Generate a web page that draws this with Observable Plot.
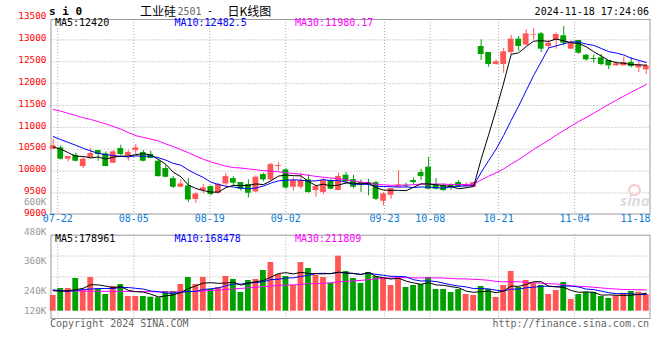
<!DOCTYPE html>
<html><head><meta charset="utf-8">
<script src="https://cdn.jsdelivr.net/npm/d3@7"></script>
<script src="https://cdn.jsdelivr.net/npm/@observablehq/plot@0.6"></script>
<style>
body{margin:0;background:#fff;}
#c{position:relative;width:660px;height:360px;overflow:hidden;background:#fff;}
#c svg{position:absolute;left:0;top:0;}
.t{position:absolute;white-space:pre;}
</style></head><body><div id="c"></div>
<script>
// ---- data (si0 industrial silicon, daily K, 2024-07-19 .. 2024-11-18) ----
const open  = [10499,10530,10271,10362,10103,10301,10469,10393,10179,10515,10347,10469,10423,10378,10225,10057,9828,9630,9660,9350,9554,9645,9493,9706,9828,9737,9691,9523,9920,9798,10103,10027,9630,9630,9798,9554,9508,9783,9554,9905,9805,9737,9737,9737,9310,9447,9630,9676,9783,9966,10088,9691,9660,9676,9737,9645,9630,12848,12711,12437,12437,12711,13016,12879,13108,13138,12848,12986,13093,12787,12986,12650,12574,12589,12528,12406,12406,12482,12360,12315];
const high  = [10728,10576,10332,10408,10332,10515,10469,10439,10469,10591,10469,10606,10469,10454,10255,10133,9874,9813,9828,9508,9691,9660,9722,9950,9874,9737,9798,9889,9950,10179,10194,10057,9844,9950,9920,9676,9828,9813,9950,9966,9905,9798,9813,9767,9508,9600,10011,9722,9844,10042,10316,9828,9706,9706,9783,9737,9737,13001,12711,12543,12803,13108,13077,13230,13260,13169,12986,13154,13306,12970,12986,12665,12650,12665,12528,12498,12604,12589,12498,12437];
const low   = [10499,10255,10210,10210,10057,10301,10225,10103,10179,10347,10225,10378,10210,10286,9859,9844,9600,9630,9279,9264,9477,9432,9477,9660,9660,9539,9386,9508,9752,9783,9996,9584,9539,9584,9493,9401,9462,9569,9554,9706,9600,9508,9432,9325,9203,9355,9630,9615,9676,9783,9569,9569,9539,9554,9615,9630,9630,12528,12376,12421,12238,12650,12742,12864,13001,12711,12803,12787,12864,12787,12665,12513,12467,12406,12315,12391,12406,12360,12253,12208];
const close = [10576,10271,10332,10225,10271,10400,10378,10103,10439,10378,10423,10530,10225,10286,9874,9859,9630,9706,9340,9475,9615,9462,9691,9874,9722,9584,9493,9859,9798,10149,10126,9615,9783,9783,9508,9645,9783,9584,9874,9752,9630,9676,9691,9355,9477,9600,9676,9653,9737,9874,9584,9584,9554,9630,9630,9691,9737,12665,12437,12498,12726,13016,12848,13138,13123,12787,12925,13123,12925,12925,12696,12543,12551,12437,12406,12452,12482,12391,12421,12406];
const volume = [157000,227000,227000,327000,207000,337000,217000,167000,247000,267000,147000,147000,147000,140000,134000,197000,197000,267000,337000,267000,337000,217000,237000,347000,317000,187000,307000,317000,407000,487000,367000,347000,257000,487000,427000,357000,337000,277000,550000,397000,327000,277000,387000,347000,337000,257000,327000,237000,257000,267000,337000,217000,217000,187000,217000,167000,157000,247000,217000,137000,257000,397000,237000,307000,277000,257000,167000,207000,287000,117000,167000,187000,187000,147000,127000,154000,177000,197000,190000,167000];
const ma5  = [10550,10505,10420,10340,10335,10300,10321,10275,10318,10340,10344,10375,10399,10368,10268,10155,9975,9871,9682,9602,9553,9520,9517,9623,9673,9667,9673,9706,9691,9777,9885,9909,9894,9891,9763,9667,9700,9661,9679,9728,9725,9703,9725,9621,9566,9560,9560,9552,9629,9708,9705,9686,9667,9645,9596,9618,9648,10271,10832,11406,12013,12668,12705,12845,12970,12982,12964,13019,12977,12937,12919,12842,12728,12630,12527,12478,12466,12434,12430,12420];
const ma10 = [10790,10720,10655,10590,10520,10460,10405,10375,10355,10337,10322,10348,10337,10343,10304,10250,10175,10135,10025,9935,9854,9747,9694,9653,9637,9610,9596,9612,9657,9725,9776,9791,9800,9791,9770,9776,9805,9777,9785,9745,9696,9702,9693,9650,9647,9642,9632,9638,9625,9637,9632,9623,9609,9637,9652,9661,9667,9969,10239,10501,10815,11158,11488,11839,12188,12498,12816,12862,12911,12954,12951,12903,12874,12804,12732,12698,12654,12581,12530,12482];
const ma30 = [11410,11370,11320,11270,11220,11180,11130,11080,11020,10960,10880,10810,10770,10730,10690,10620,10560,10490,10420,10340,10270,10210,10160,10110,10080,10070,10050,10030,10010,9999,9984,9962,9944,9929,9904,9878,9859,9841,9822,9802,9775,9747,9729,9698,9685,9676,9678,9676,9689,9702,9701,9705,9701,9693,9690,9693,9701,9795,9883,9961,10048,10161,10263,10375,10496,10600,10705,10823,10925,11031,11133,11228,11324,11426,11524,11619,11713,11804,11893,11980];
const vma5  = [205000,200000,205000,215000,229000,265000,263000,251000,235000,247000,209000,195000,191000,170000,143000,153000,163000,187000,226000,253000,281000,285000,279000,281000,291000,261000,279000,295000,307000,341000,377000,385000,373000,389000,377000,375000,373000,377000,390000,384000,378000,366000,388000,347000,335000,321000,331000,301000,283000,269000,285000,263000,259000,245000,235000,201000,189000,195000,201000,185000,203000,251000,249000,267000,295000,295000,249000,243000,239000,207000,189000,193000,189000,161000,163000,160000,158000,160000,169000,179000];
const vma10 = [213000,205000,198000,207000,217000,222000,227000,227000,227000,238000,237000,229000,221000,202000,195000,181000,179000,189000,198000,198000,217000,224000,233000,254000,272000,271000,282000,287000,294000,316000,319000,332000,334000,348000,359000,376000,379000,375000,389000,380000,376000,369000,382000,368000,359000,349000,348000,344000,315000,302000,303000,297000,280000,264000,252000,243000,226000,227000,223000,210000,202000,220000,222000,234000,240000,249000,250000,246000,253000,251000,242000,221000,216000,200000,185000,175000,176000,175000,165000,168000];
const vma30 = [207000,206000,205000,203000,201000,200000,199000,199000,198000,198000,197000,197000,196000,195000,194000,193000,193000,194000,196000,198000,202000,207000,212000,217000,222000,228000,234000,240000,246000,251000,258000,262000,263000,268000,275000,276000,280000,284000,294000,298000,304000,308000,316000,323000,330000,332000,336000,335000,333000,333000,333000,333000,332000,327000,323000,323000,318000,315000,309000,297000,294000,295000,295000,289000,284000,280000,275000,272000,264000,254000,249000,246000,239000,233000,226000,222000,217000,216000,214000,212000];

const tickLabels = ["07-22","08-05","08-19","09-02","09-23","10-08","10-21","11-04","11-18"];
const tickIndex  = [1, 11, 21, 31, 44, 50, 59, 69, 79];   // candle index of each labelled day
const priceTicks = [9000,9500,10000,10500,11000,11500,12000,12500,13000,13500];
const volTicks   = [120000,240000,360000,480000,600000];
const legendMain = ["MA5:12420","MA10:12482.5","MA30:11980.17"];
const legendVol  = ["MA5:178961","MA10:168478","MA30:211809"];
const legendColors = ["#000000","#0000ff","#ff00ff"];

// ---- styling / layout ----
const RED = "#ff5555", GREEN = "#00a000", AXISBLUE = "#0a7ad6", GRID = "#a8a8a8", FRAME = "#999";
const MONO = "'DejaVu Sans Mono', monospace";
const W = 660, H = 360;
const SVGSTYLE = "position:absolute;left:0;top:0;background:transparent;overflow:visible;font-family:'DejaVu Sans Mono',monospace;font-size:10px;";
const c = document.getElementById("c");

const candles = open.map((o, i) => ({i, o, h: high[i], l: low[i], c: close[i], v: volume[i],
  col: close[i] >= o ? RED : GREEN}));
const ticks = tickLabels.map((label, k) => ({label, idx: tickIndex[k]}));
const series = (arr) => arr.map((v, i) => ({i, v}));

// Sina draws the date grid on a slightly wider day step than the candles
const gridX = {domain: [0, 79], range: [49.7, 650.1]};
const candleX = {domain: [0, 79], range: [52.7, 645.8]};
const priceY = {domain: [9000, 13500], range: [214.3, 17.5]};
const volY = {domain: [0, 760000], range: [310.7, 234.7]};
const half = 0.385;

// 1. main panel: grid, frame, axes
c.appendChild(Plot.plot({
  width: W, height: H, style: SVGSTYLE,
  marginLeft: 50.5, marginRight: W - 649.5, marginTop: 19, marginBottom: H - 213.5,
  x: {...gridX, axis: null}, y: {...priceY, axis: null},
  marks: [
    Plot.ruleY(priceTicks.filter(v => v > 9000 && v < 13500), {stroke: GRID, strokeDasharray: "1,2"}),
    Plot.ruleX(ticks.slice(0, -1), {x: "idx", stroke: GRID, strokeDasharray: "1,2"}),
    Plot.frame({stroke: FRAME}),
    Plot.axisY({ticks: priceTicks, tickFormat: d => String(d), tickSize: 0, tickPadding: 4.5, dy: -1.8, fill: "#ff0000", fontSize: 9.4}),
    Plot.text(ticks.slice(0, -1), {x: "idx", text: "label", frameAnchor: "bottom", dy: 8.3, fill: AXISBLUE}),
    Plot.text(ticks.slice(-1), {x: "idx", text: "label", frameAnchor: "bottom", dy: 8.3, textAnchor: "end", fill: AXISBLUE})
  ]
}));

// 2. volume panel: grid, frame (quarters of the panel)
c.appendChild(Plot.plot({
  width: W, height: H, style: SVGSTYLE,
  marginLeft: 50.5, marginRight: W - 649.5, marginTop: 234.7, marginBottom: H - 318,
  x: {...gridX, axis: null}, y: {domain: [0, 4], axis: null},
  marks: [
    Plot.ruleY([1, 2, 3], {stroke: GRID, strokeDasharray: "1,2"}),
    Plot.ruleX(ticks.slice(0, -1), {x: "idx", stroke: GRID, strokeDasharray: "1,2"}),
    Plot.frame({stroke: FRAME})
  ]
}));

// 3. candles + price moving averages
c.appendChild(Plot.plot({
  width: W, height: H, style: SVGSTYLE,
  x: {...candleX, axis: null}, y: {...priceY, axis: null}, color: {type: "identity"},
  marks: [
    Plot.ruleX(candles, {x: "i", y1: "l", y2: "h", stroke: "col", strokeWidth: 1}),
    Plot.rect(candles, {x1: d => d.i - half, x2: d => d.i + half,
      y1: d => Math.min(d.o, d.c), y2: d => Math.max(d.o, d.c), fill: "col"}),
    Plot.line(series(ma30), {x: "i", y: "v", stroke: "#ff00ff", strokeWidth: 1}),
    Plot.line(series(ma10), {x: "i", y: "v", stroke: "#0000ff", strokeWidth: 1}),
    Plot.line(series(ma5), {x: "i", y: "v", stroke: "#000000", strokeWidth: 1})
  ]
}));

// 4. volume bars + volume moving averages
c.appendChild(Plot.plot({
  width: W, height: H, style: SVGSTYLE,
  x: {...candleX, axis: null}, y: {...volY, axis: null}, color: {type: "identity"},
  marks: [
    Plot.rect(candles, {x1: d => d.i - half, x2: d => d.i + half, y1: 0, y2: "v", fill: "col"}),
    Plot.line(series(vma30), {x: "i", y: "v", stroke: "#ff00ff", strokeWidth: 1}),
    Plot.line(series(vma10), {x: "i", y: "v", stroke: "#0000ff", strokeWidth: 1}),
    Plot.line(series(vma5), {x: "i", y: "v", stroke: "#000000", strokeWidth: 1})
  ]
}));

// 5. volume axis labels: Sina's label ladder (30px per 120K from 600K down to 240K;
//    the lowest label sits against the panel bottom)
c.appendChild(Plot.plot({
  width: W, height: H, style: SVGSTYLE, marginLeft: 50.5,
  y: {domain: [240000, 600000], range: [290.7, 201.5], axis: null},
  marks: [
    Plot.axisY({ticks: volTicks.slice(1), tickFormat: d => (d / 1000) + "K", tickSize: 0, tickPadding: 4.5, fill: "#999", fontSize: 9.4})
  ]
}));
c.appendChild(Plot.plot({
  width: W, height: H, style: SVGSTYLE, marginLeft: 50.5,
  y: {domain: [0, 120000], range: [330, 310], axis: null},
  marks: [
    Plot.axisY({ticks: volTicks.slice(0, 1), tickFormat: d => (d / 1000) + "K", tickSize: 0, tickPadding: 4.5, fill: "#999", fontSize: 9.4})
  ]
}));

// ---- html texts ----
function txt(s, x, y, o = {}) {
  const d = document.createElement("div");
  d.className = "t";
  d.textContent = s;
  const size = o.size || 10;
  d.style.fontSize = size + "px";
  d.style.lineHeight = (size * 1.2) + "px";
  d.style.fontFamily = o.family || MONO;
  d.style.color = o.color || "#000";
  if (o.weight) d.style.fontWeight = o.weight;
  if (o.italic) d.style.fontStyle = "italic";
  d.style.top = (y - size * 0.6) + "px";
  if (o.anchor === "end") d.style.right = (W - x) + "px"; else d.style.left = x + "px";
  c.appendChild(d);
}
const CJK = "'Noto Sans CJK SC', sans-serif";
txt("s i 0", 49, 12, {size: 11, weight: "bold"});
txt("工业硅", 140, 11, {size: 12, family: CJK});
txt("2501", 177.5, 11.5, {color: "#666"});
txt("-", 207, 11);
txt("日K线图", 227.5, 11, {size: 12, family: CJK});
txt("2024-11-18 17:24:06", 649, 12, {anchor: "end"});
legendMain.forEach((s, k) => txt(s, [55, 174.5, 295][k], 23.3, {color: legendColors[k]}));
legendVol.forEach((s, k) => txt(s, [55, 174.5, 295][k], 238.5, {color: legendColors[k]}));
txt("Copyright 2024 SINA.COM", 50, 323.5, {color: "#666"});
txt("http://finance.sina.com.cn", 649, 323.5, {color: "#666", anchor: "end"});
// faint sina watermark
const eye = document.createElement("div");
eye.style.cssText = "position:absolute;left:628px;top:184px;width:9px;height:8px;border:2px solid #f4caca;border-radius:50%;";
c.appendChild(eye);
txt("sina", 620, 200, {size: 15, family: "'Noto Sans', sans-serif", weight: "bold", italic: true, color: "#dcdcdc"});
</script></body></html>
